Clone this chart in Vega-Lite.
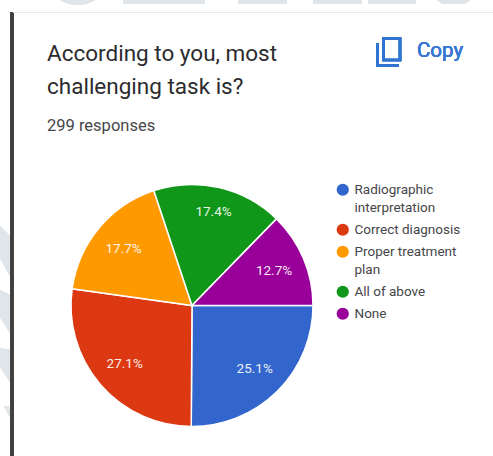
{
  "$schema": "https://vega.github.io/schema/vega-lite/v6.json",
  "width": 493,
  "height": 456,
  "autosize": "none",
  "padding": 0,
  "background": "#ffffff",
  "config": {"view": {"stroke": null}, "text": {"font": "Roboto"}},
  "title": {
    "text": ["According to you, most", "challenging task is?"],
    "subtitle": "299 responses",
    "anchor": "start",
    "frame": "group",
    "dx": 47,
    "offset": -134,
    "font": "Roboto",
    "fontSize": 22.5,
    "fontWeight": 400,
    "color": "#2b2c2e",
    "lineHeight": 33,
    "baseline": "top",
    "subtitleFont": "Roboto",
    "subtitleFontSize": 16.5,
    "subtitleColor": "#45464a",
    "subtitlePadding": 19
  },
  "datasets": {
    "answers": [
      {"task": "Radiographic interpretation", "share": 0.251, "rank": 1},
      {"task": "Correct diagnosis", "share": 0.271, "rank": 2},
      {"task": "Proper treatment plan", "share": 0.177, "rank": 3},
      {"task": "All of above", "share": 0.174, "rank": 4},
      {"task": "None", "share": 0.127, "rank": 5}
    ]
  },
  "data": {"name": "answers"},
  "layer": [
    {
      "description": "pale watermark behind the card",
      "mark": {
        "type": "point",
        "filled": true,
        "fill": "#dfe5e9",
        "stroke": null,
        "opacity": 1,
        "size": 4,
        "shape": "M0,226L10,236L10,276L0,258ZM0,290L10,295L10,333L0,317ZM0,348L10,350L10,382L0,367ZM4,406L9,406L10,417ZM60,0L95,0Q78,10 60,0ZM123,0L205,0L205,3.5L123,3.5ZM238,0L287,0L287,3.5L238,3.5ZM313,0L362,0L362,3.5L313,3.5ZM368,0L416,0L416,3.5L368,3.5ZM437,0L470,0L465,3.5L442,3.5Z"
      },
      "encoding": {"x": {"value": 0}, "y": {"value": 0}}
    },
    {
      "description": "card edge and top hairline",
      "mark": {
        "type": "point",
        "filled": true,
        "stroke": null,
        "fill": "#3f3f3f",
        "opacity": 1,
        "size": 4,
        "shape": "M10.5,12L13.5,12L13.5,456L10.5,456Z"
      },
      "encoding": {"x": {"value": 0}, "y": {"value": 0}}
    },
    {
      "mark": {
        "type": "point",
        "filled": true,
        "stroke": null,
        "fill": "#e9e9e9",
        "opacity": 1,
        "size": 4,
        "shape": "M13.5,12L493,12L493,13L13.5,13Z"
      },
      "encoding": {"x": {"value": 0}, "y": {"value": 0}}
    },
    {
      "description": "copy icon",
      "mark": {
        "type": "point",
        "filled": false,
        "fill": null,
        "stroke": "#2f74d0",
        "strokeWidth": 2.6,
        "opacity": 1,
        "size": 4,
        "shape": "M383.5,38.5L400,38.5L400,60L383.5,60ZM377.5,43L377.5,65.5L399,65.5"
      },
      "encoding": {"x": {"value": 0}, "y": {"value": 0}}
    },
    {
      "mark": {
        "type": "text",
        "text": "Copy",
        "font": "Roboto",
        "fontSize": 20.5,
        "fontWeight": 400,
        "color": "#3b78d4",
        "align": "left",
        "baseline": "middle"
      },
      "encoding": {"x": {"value": 417}, "y": {"value": 51}}
    },
    {
      "mark": {"type": "arc", "stroke": "#ffffff", "strokeWidth": 1.5},
      "encoding": {
        "x": {"value": 192},
        "y": {"value": 305.5},
        "radius": {"value": 121},
        "theta": {
          "field": "share",
          "type": "quantitative",
          "stack": true,
          "scale": {"domain": [0, 1], "range": [1.5708, 7.854]}
        },
        "order": {"field": "rank", "type": "ordinal"},
        "color": {
          "field": "task",
          "type": "nominal",
          "scale": {
            "domain": ["Radiographic interpretation", "Correct diagnosis", "Proper treatment plan", "All of above", "None"],
            "range": ["#3366cc", "#dc3912", "#ff9900", "#109618", "#990099"]
          },
          "legend": {
            "title": null,
            "orient": "none",
            "legendX": 336,
            "legendY": 183,
            "symbolType": "circle",
            "symbolSize": 150,
            "symbolStrokeWidth": 0,
            "labelFont": "Roboto",
            "labelFontSize": 13.5,
            "labelColor": "#45464a",
            "labelOffset": 5,
            "labelLimit": 140,
            "labelExpr": "datum.label === 'Radiographic interpretation' ? ['Radiographic', 'interpretation'] : datum.label === 'Proper treatment plan' ? ['Proper treatment', 'plan'] : datum.label",
            "rowPadding": 7,
            "encoding": {"labels": {"lineHeight": {"value": 18}, "update": {"lineHeight": {"value": 18}}}}
          }
        }
      }
    },
    {
      "mark": {"type": "text", "font": "Roboto", "fontSize": 13.5, "color": "#ffffff", "opacity": 0.9},
      "encoding": {
        "x": {"value": 192},
        "y": {"value": 305.5},
        "radius": {"value": 89},
        "theta": {"field": "share", "type": "quantitative", "stack": true, "scale": {"domain": [0, 1], "range": [1.5708, 7.854]}},
        "order": {"field": "rank", "type": "ordinal"},
        "text": {
          "condition": {"test": "datum.task !== 'All of above'", "field": "share", "type": "quantitative", "format": ".1%"},
          "value": ""
        }
      }
    },
    {
      "mark": {"type": "text", "font": "Roboto", "fontSize": 13.5, "color": "#ffffff", "opacity": 0.9},
      "encoding": {
        "x": {"value": 192},
        "y": {"value": 305.5},
        "radius": {"value": 96},
        "theta": {"field": "share", "type": "quantitative", "stack": true, "scale": {"domain": [0, 1], "range": [1.5708, 7.854]}},
        "order": {"field": "rank", "type": "ordinal"},
        "text": {
          "condition": {"test": "datum.task === 'All of above'", "field": "share", "type": "quantitative", "format": ".1%"},
          "value": ""
        }
      }
    }
  ]
}
